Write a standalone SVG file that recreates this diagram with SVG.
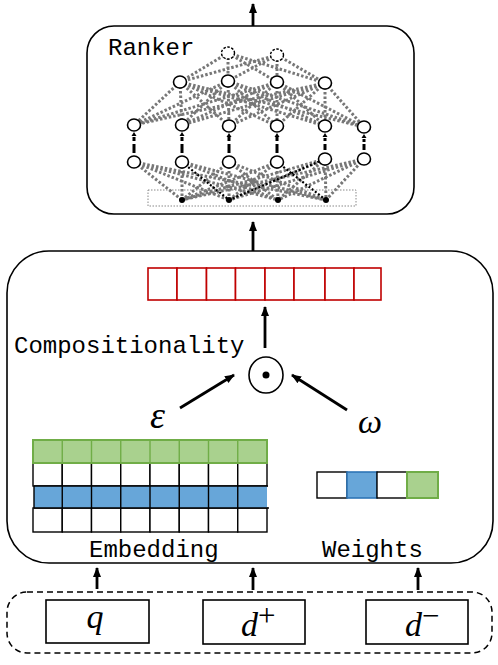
<svg xmlns="http://www.w3.org/2000/svg" width="498" height="665" viewBox="0 0 498 665">
<style>
.box{fill:#fff;stroke:#000;stroke-width:1.6}
.mono{font-family:"Liberation Mono","Courier New",monospace;font-size:24px;fill:#000}
.math{font-family:"Liberation Serif","DejaVu Serif",serif;font-style:italic;fill:#000}
.arr{stroke:#000;stroke-width:2.8;fill:none}
.gray{stroke:#777;stroke-width:3;stroke-dasharray:2.5 2;fill:none}
.blk{stroke:#000;stroke-width:2.2;stroke-dasharray:2 2;fill:none}
.node{fill:#fff;stroke:#000;stroke-width:1.6}
.vd{stroke:#000;stroke-width:3;fill:none}
.red{fill:#fff;stroke:#c00000;stroke-width:1.6}
.cell{fill:#fff;stroke:#000;stroke-width:1.4}
.green{fill:#a9d18e;stroke:#70ad47;stroke-width:2}
.blue{fill:#67a6d9;stroke:#2e75b6;stroke-width:1.6}
</style>
<defs>
<marker id="ah" markerUnits="userSpaceOnUse" markerWidth="10" markerHeight="10" viewBox="0 0 10 10" refX="9" refY="5" orient="auto">
<path d="M0 1 L10 5 L0 9 Z" fill="#000"/>
</marker>
<path id="vtip" d="M-2.5 4 L0 0 L2.5 4 Z" fill="#000"/>
</defs>

<!-- Ranker -->
<g id="ranker">
<rect class="box" x="87" y="26" width="327" height="188" rx="27"/>
<text class="mono" x="108" y="55">Ranker</text>
<g id="ranker-edges">
<path class="gray" d="M228 53L180 82M228 53L228 81M228 53L277 82M228 53L325 83M277 55L180 82M277 55L228 81M277 55L277 82M277 55L325 83"/>
<path class="gray" d="M180 82L134 125M180 82L182 125M180 82L229 126M180 82L277 126M180 82L325 126M180 82L364 127
M228 81L134 125M228 81L182 125M228 81L229 126M228 81L277 126M228 81L325 126M228 81L364 127
M277 82L134 125M277 82L182 125M277 82L229 126M277 82L277 126M277 82L325 126M277 82L364 127
M325 83L134 125M325 83L182 125M325 83L229 126M325 83L277 126M325 83L325 126M325 83L364 127"/>
<path class="gray" d="M134 162L182 200M134 162L229 200M134 162L278 200M134 162L326 200
M182 162L182 200M182 162L278 200M182 162L326 200
M229 162L182 200M229 162L229 200M229 162L278 200M229 162L326 200
M277 162L182 200M277 162L229 200M277 162L278 200
M325 159L182 200M325 159L229 200M325 159L278 200M325 159L326 200
M364 159L182 200M364 159L229 200M364 159L278 200M364 159L326 200"/>
<path class="blk" d="M182 162L229 200M229 200L325 159M277 162L326 200"/>
<path class="vd" d="M134 137V141M134 144V153M182 137V141M182 144V153M229 137V141M229 144V153M277 137V141M277 144V153M325 138V141M325 144V150M364 139V142M364 144V150"/>
<use href="#vtip" x="134" y="132"/>
<use href="#vtip" x="182" y="132"/>
<use href="#vtip" x="229" y="133"/>
<use href="#vtip" x="277" y="133"/>
<use href="#vtip" x="325" y="133"/>
<use href="#vtip" x="364" y="134"/>
</g>
<rect x="148" y="190" width="208" height="16" fill="none" stroke="#888" stroke-width="1" stroke-dasharray="1.5 1.5"/>
<g id="ranker-nodes">
<ellipse cx="228" cy="53" rx="6.5" ry="6" fill="#fff" stroke="#000" stroke-width="1.4" stroke-dasharray="2.5 1.5"/>
<ellipse cx="277" cy="55" rx="6.5" ry="6" fill="#fff" stroke="#000" stroke-width="1.4" stroke-dasharray="2.5 1.5"/>
<ellipse class="node" cx="180" cy="82" rx="6.5" ry="6"/>
<ellipse class="node" cx="228" cy="81" rx="6.5" ry="6"/>
<ellipse class="node" cx="277" cy="82" rx="6.5" ry="6"/>
<ellipse class="node" cx="325" cy="83" rx="6.5" ry="6"/>
<ellipse class="node" cx="134" cy="125" rx="6.5" ry="6"/>
<ellipse class="node" cx="182" cy="125" rx="6.5" ry="6"/>
<ellipse class="node" cx="229" cy="126" rx="6.5" ry="6"/>
<ellipse class="node" cx="277" cy="126" rx="6.5" ry="6"/>
<ellipse class="node" cx="325" cy="126" rx="6.5" ry="6"/>
<ellipse class="node" cx="364" cy="127" rx="6.5" ry="6"/>
<ellipse class="node" cx="134" cy="162" rx="6.5" ry="6"/>
<ellipse class="node" cx="182" cy="162" rx="6.5" ry="6"/>
<ellipse class="node" cx="229" cy="162" rx="6.5" ry="6"/>
<ellipse class="node" cx="277" cy="162" rx="6.5" ry="6"/>
<ellipse class="node" cx="325" cy="159" rx="6.5" ry="6"/>
<ellipse class="node" cx="364" cy="159" rx="6.5" ry="6"/>
<circle cx="182" cy="200" r="3"/>
<circle cx="229" cy="200" r="3"/>
<circle cx="278" cy="200" r="3"/>
<circle cx="326" cy="200" r="3"/>
</g>
</g>

<!-- Composition box -->
<g id="composition">
<rect class="box" x="7" y="251" width="486" height="312" rx="42"/>
<text class="mono" x="14" y="353">Compositionality</text>
<text class="mono" x="89" y="557">Embedding</text>
<text class="mono" x="322" y="557">Weights</text>
</g>

<g id="red-vector">
<rect class="red" x="148" y="268" width="29" height="32"/>
<rect class="red" x="177" y="268" width="29.5" height="32"/>
<rect class="red" x="206.5" y="268" width="29" height="32"/>
<rect class="red" x="235.5" y="268" width="29.5" height="32"/>
<rect class="red" x="265" y="268" width="29" height="32"/>
<rect class="red" x="294" y="268" width="31" height="32"/>
<rect class="red" x="325" y="268" width="29" height="32"/>
<rect class="red" x="354" y="268" width="27" height="32"/>
</g>

<g id="odot">
<ellipse cx="266" cy="375" rx="17" ry="18" fill="#fff" stroke="#000" stroke-width="1.6"/>
<circle cx="266" cy="375" r="3.5"/>
</g>

<g id="epsilon"><text class="math" x="150" y="428" font-size="38">ε</text></g>
<g id="omega"><text class="math" x="358" y="433" font-size="34">ω</text></g>

<g id="embedding">
<rect class="cell" x="33" y="463" width="29.25" height="23"/>
<rect class="cell" x="62.25" y="463" width="29.25" height="23"/>
<rect class="cell" x="91.5" y="463" width="29.25" height="23"/>
<rect class="cell" x="120.75" y="463" width="29.25" height="23"/>
<rect class="cell" x="150" y="463" width="29.25" height="23"/>
<rect class="cell" x="179.25" y="463" width="29.25" height="23"/>
<rect class="cell" x="208.5" y="463" width="29.25" height="23"/>
<rect class="cell" x="237.75" y="463" width="29.25" height="23"/>
<rect class="cell" x="33" y="508" width="29.25" height="24"/>
<rect class="cell" x="62.25" y="508" width="29.25" height="24"/>
<rect class="cell" x="91.5" y="508" width="29.25" height="24"/>
<rect class="cell" x="120.75" y="508" width="29.25" height="24"/>
<rect class="cell" x="150" y="508" width="29.25" height="24"/>
<rect class="cell" x="179.25" y="508" width="29.25" height="24"/>
<rect class="cell" x="208.5" y="508" width="29.25" height="24"/>
<rect class="cell" x="237.75" y="508" width="29.25" height="24"/>
<rect x="34" y="486" width="233" height="22" fill="#67a6d9"/>
<path d="M62.25 486V508M91.5 486V508M120.75 486V508M150 486V508M179.25 486V508M208.5 486V508M237.75 486V508" stroke="#000" stroke-width="1.4"/>
<path d="M34 486H268M34 508H269M34 486V508" stroke="#000" stroke-width="1.4"/>
<rect class="green" x="33" y="440" width="234" height="23"/>
<path d="M62.25 440V463M91.5 440V463M120.75 440V463M150 440V463M179.25 440V463M208.5 440V463M237.75 440V463" stroke="#70ad47" stroke-width="1.4"/>
</g>

<g id="weights">
<rect class="cell" x="317" y="472" width="30" height="26"/>
<rect class="blue" x="347" y="472" width="30" height="26"/>
<rect class="cell" x="377" y="472" width="30" height="26"/>
<rect class="green" x="407" y="472" width="31" height="26"/>
</g>

<g id="inputs">
<rect x="7" y="592" width="485" height="61" rx="20" fill="none" stroke="#000" stroke-width="1.5" stroke-dasharray="6 4"/>
<g id="q">
<rect class="box" x="46" y="600" width="103" height="43"/>
<text class="math" x="95" y="628" font-size="34" text-anchor="middle">q</text>
</g>
<g id="dplus">
<rect class="box" x="203" y="600" width="102" height="44"/>
<text class="math" x="241" y="636" font-size="34">d<tspan dy="-10" font-size="31" font-style="normal">+</tspan></text>
</g>
<g id="dminus">
<rect class="box" x="366" y="600" width="102" height="44"/>
<text class="math" x="405" y="636" font-size="34">d<tspan dy="-10" font-size="31" font-style="normal">−</tspan></text>
</g>
</g>

<g id="connectors">
<path class="arr" d="M253 26V4" marker-end="url(#ah)"/>
<path class="arr" d="M253 251V222" marker-end="url(#ah)"/>
<path class="arr" d="M265 348V307" marker-end="url(#ah)"/>
<path class="arr" d="M180 408L234 375" marker-end="url(#ah)"/>
<path class="arr" d="M347 410L292 375" marker-end="url(#ah)"/>
<path class="arr" d="M97 589V568" marker-end="url(#ah)"/>
<path class="arr" d="M253 590V568" marker-end="url(#ah)"/>
<path class="arr" d="M418 590V568" marker-end="url(#ah)"/>
</g>
</svg>
